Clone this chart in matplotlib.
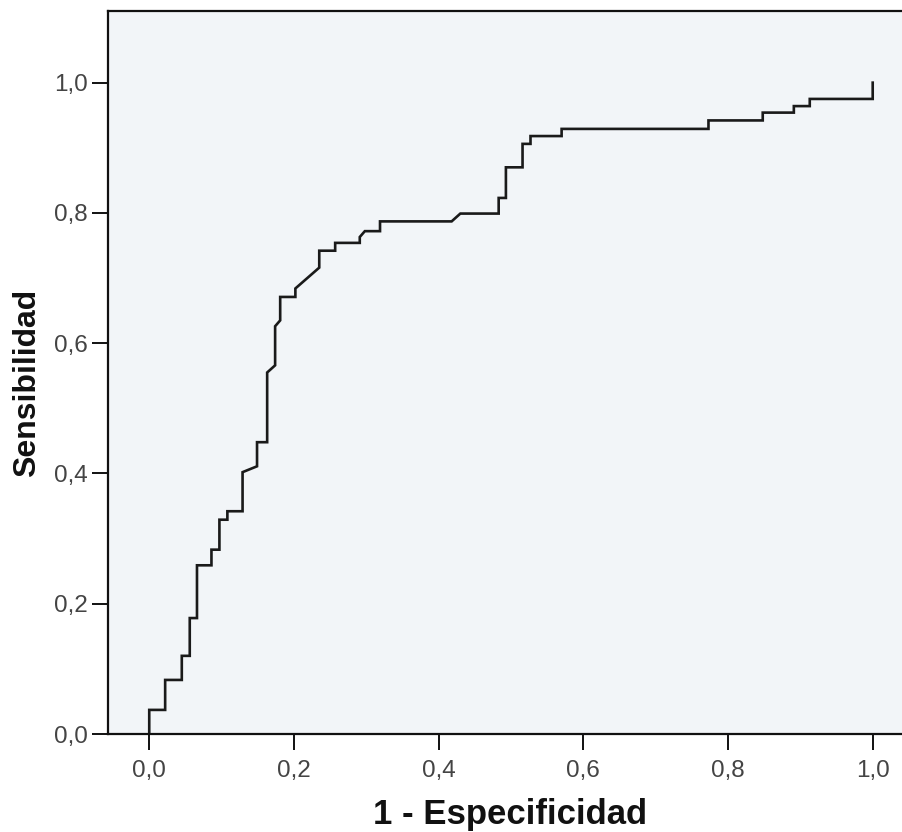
import matplotlib
matplotlib.use("Agg")
import matplotlib.pyplot as plt

plt.rcParams["font.family"] = ["Liberation Sans", "DejaVu Sans"]

# ROC curve vertices: 1 - specificity (fpr) and sensitivity (tpr)
fpr = [0.000, 0.000, 0.022, 0.022, 0.045, 0.045, 0.056, 0.056, 0.066, 0.066,
       0.086, 0.086, 0.097, 0.097, 0.108, 0.108, 0.129, 0.129, 0.149, 0.149,
       0.163, 0.163, 0.174, 0.174, 0.181, 0.181, 0.202, 0.202, 0.235, 0.235,
       0.257, 0.257, 0.291, 0.291, 0.298, 0.319, 0.319, 0.418, 0.430, 0.483,
       0.483, 0.493, 0.493, 0.516, 0.516, 0.527, 0.527, 0.570, 0.570, 0.773,
       0.773, 0.848, 0.848, 0.891, 0.891, 0.913, 0.913, 1.000, 1.000]
tpr = [0.000, 0.037, 0.037, 0.083, 0.083, 0.120, 0.120, 0.178, 0.178, 0.259,
       0.259, 0.283, 0.283, 0.329, 0.329, 0.342, 0.342, 0.402, 0.411, 0.448,
       0.448, 0.555, 0.566, 0.626, 0.635, 0.671, 0.671, 0.684, 0.716, 0.742,
       0.742, 0.754, 0.754, 0.763, 0.772, 0.772, 0.787, 0.787, 0.799, 0.799,
       0.823, 0.823, 0.870, 0.870, 0.906, 0.906, 0.918, 0.918, 0.929, 0.929,
       0.942, 0.942, 0.954, 0.954, 0.964, 0.964, 0.975, 0.975, 1.000]

ticks = [0.0, 0.2, 0.4, 0.6, 0.8, 1.0]
tick_labels = ["0,0", "0,2", "0,4", "0,6", "0,8", "1,0"]

W, H = 902, 832
fig = plt.figure(figsize=(W / 100, H / 100), dpi=100)
fig.patch.set_facecolor("white")

left, right, bottom, top = 108, 902, 734, 11
ax = fig.add_axes([left / W, (H - bottom) / H, (right - left) / W, (bottom - top) / H])
ax.set_facecolor("#F2F5F8")

ax.plot(fpr, tpr, color="#1a1a1a", linewidth=1.9, solid_joinstyle="miter")

ax.set_xlim(-0.057, 1.0405)
ax.set_ylim(0.0, 1.110)
ax.set_xticks(ticks)
ax.set_xticklabels(tick_labels)
ax.set_yticks(ticks)
ax.set_yticklabels(tick_labels)

for side in ("left", "bottom", "top"):
    ax.spines[side].set_linewidth(1.6)
    ax.spines[side].set_color("#111111")
ax.spines["right"].set_visible(False)

ax.tick_params(axis="both", direction="out", length=11.5, width=1.4,
               color="#111111", labelsize=17.5, labelcolor="#444444")
ax.tick_params(axis="x", pad=7)
ax.tick_params(axis="y", pad=3)

fig.text(510 / W, (H - 824) / H, "1 - Especificidad", ha="center", va="baseline",
         fontsize=25, fontweight="bold", color="#111111")
fig.text(12 / W, (H - 383) / H, "Sensibilidad", ha="left", va="center",
         rotation=90, fontsize=23, fontweight="bold", color="#111111")

fig.savefig("out.png", dpi=100, facecolor="white")
